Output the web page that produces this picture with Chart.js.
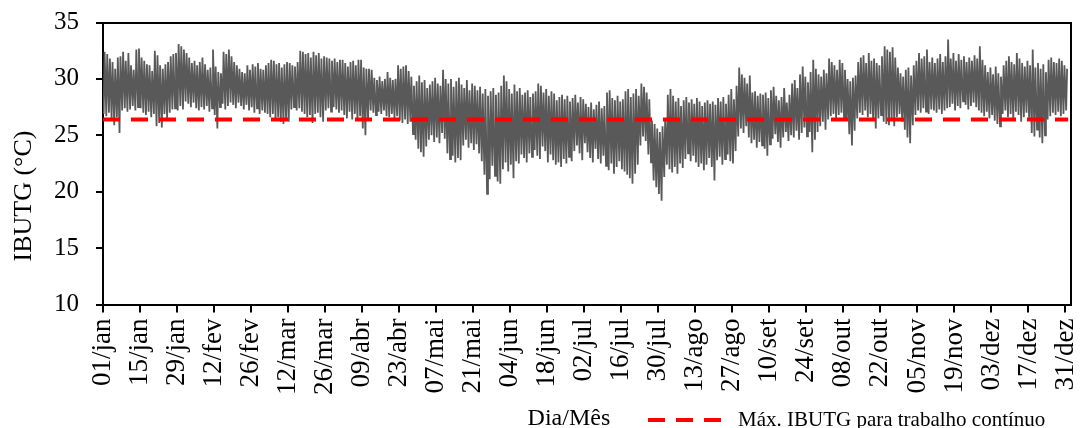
<!DOCTYPE html>
<html>
<head>
<meta charset="utf-8">
<script src="https://cdn.jsdelivr.net/npm/chart.js@4.4.1/dist/chart.umd.min.js"></script>
<style>
  body { margin: 0; background: #fff; }
  #wrap { width: 1081px; height: 428px; }
</style>
</head>
<body>
<div id="wrap"><canvas id="ibutgChart"></canvas></div>
<script>
// ---- dados (IBUTG diário, °C) ----
// máximas diárias, 01/jan (dia 0) até 31/dez (dia 364)
const dailyMax = [
  32.4, 32.2, 31.8, 31.5, 30.9, 31.9, 32.0, 32.4, 31.6, 32.3,
  31.2, 30.8, 32.6, 32.7, 31.9, 31.6, 31.3, 31.2, 30.7, 32.5,
  32.1, 31.2, 30.9, 31.3, 31.5, 32.0, 32.2, 32.3, 33.1, 32.9,
  32.6, 32.3, 31.9, 31.4, 31.6, 31.2, 31.5, 31.9, 31.3, 30.8,
  31.0, 32.6, 31.1, 30.6, 30.5, 32.4, 32.2, 32.6, 32.0, 31.5,
  31.2, 30.9, 30.6, 30.5, 31.2, 30.8, 31.3, 31.1, 31.4, 30.9,
  30.8, 31.2, 31.4, 31.7, 31.6, 31.3, 31.4, 31.0, 31.3, 31.5,
  31.4, 31.2, 31.1, 31.5, 32.5, 32.4, 32.2, 32.3, 31.9, 32.4,
  32.1, 32.3, 31.8, 32.0, 31.9, 31.8, 31.6, 31.8, 31.5, 31.7,
  31.7, 31.4, 31.1, 31.5, 31.6, 31.2, 31.7, 31.7, 31.0, 30.9,
  30.9, 30.8, 30.1, 29.9, 30.2, 29.8, 30.0, 30.6, 30.1, 29.9,
  30.0, 31.2, 30.9, 31.1, 31.2, 30.7, 30.2, 29.4, 29.8, 30.3,
  29.7, 29.9, 29.2, 29.5, 29.8, 30.1, 29.6, 29.4, 30.8, 30.0,
  29.6, 30.0, 29.3, 29.8, 30.1, 29.5, 29.2, 29.9, 29.0, 29.6,
  29.4, 29.0, 29.3, 28.7, 29.1, 28.5, 28.9, 29.2, 28.6, 28.8,
  29.4, 30.3, 29.8, 29.1, 28.7, 29.5, 28.9, 29.2, 28.6, 28.8,
  29.0, 28.4, 28.7, 28.9, 29.6, 29.4, 28.8, 29.1, 28.5, 28.9,
  28.7, 28.1, 28.4, 28.6, 28.2, 28.5, 28.0, 28.3, 28.6, 27.9,
  28.4, 28.2, 27.8, 27.5, 27.9, 27.3, 27.7, 28.0, 27.4, 27.6,
  28.8, 29.0, 28.3, 28.1, 28.5, 28.0, 28.2, 28.9, 29.1, 28.4,
  28.7, 29.1, 28.5, 29.6, 29.3, 28.8, 28.2, 26.3, 26.0, 25.6,
  25.3, 25.8, 26.4, 28.6, 29.1, 28.5, 28.0, 28.3, 27.6, 28.1,
  28.4, 27.9, 28.2, 27.8, 28.3, 28.0, 27.6, 27.9, 28.1, 27.8,
  28.0, 27.7, 28.3, 28.0, 28.4, 27.8, 28.6, 29.1, 28.2, 29.4,
  31.0, 30.4, 30.1, 29.6, 30.3, 28.8, 28.9, 28.5, 28.7, 28.6,
  28.8, 28.3, 29.0, 29.3, 28.5, 28.1, 28.4, 29.2, 27.9, 28.6,
  29.6, 29.9, 29.2, 30.4, 31.1, 30.2, 29.7, 30.6, 31.7, 30.9,
  30.4, 30.2, 30.8, 30.5, 31.8, 31.5, 31.2, 30.8, 31.7, 31.4,
  30.8, 30.0, 29.8, 30.1, 30.3, 31.5, 31.9, 32.1, 31.4, 32.3,
  31.6, 31.8, 31.4, 31.2, 32.0, 32.9, 32.6, 32.4, 32.8, 31.9,
  31.0, 30.5, 30.2, 30.8, 31.0, 30.3, 31.2, 31.6, 32.3, 31.8,
  32.0, 32.6, 31.5, 31.9, 31.4, 31.8, 32.2, 31.5, 32.0, 33.5,
  31.8, 32.3, 31.6, 32.2, 31.7, 32.0, 31.5, 31.9, 31.6, 32.1,
  31.8, 32.9, 31.7, 31.2, 30.6, 31.0, 30.4, 31.1, 30.5, 30.2,
  31.2, 31.6, 32.0, 31.5, 31.3, 32.3, 31.8, 31.4, 31.1, 31.6,
  31.2, 32.6, 31.0, 31.4, 30.9, 31.3, 30.6, 31.7, 31.9, 31.5,
  31.4, 31.8, 31.6, 31.2, 30.9
];

// mínimas diárias, mesmo período
const dailyMin = [
  26.9, 26.7, 27.0, 26.5, 25.9, 26.6, 25.2, 27.2, 27.4, 27.1,
  27.3, 27.6, 27.2, 27.5, 27.4, 27.0, 26.8, 27.1, 26.6, 26.9,
  25.8, 26.1, 25.7, 26.9, 26.5, 27.0, 27.3, 27.4, 27.2, 27.6,
  27.3, 28.0, 27.8, 27.5, 27.9, 27.4, 27.2, 27.5, 27.3, 27.6,
  27.1, 27.4, 26.8, 25.6, 27.5, 27.8, 27.3, 27.6, 27.9, 27.7,
  27.4, 27.9, 27.6, 27.3, 27.7, 27.2, 27.5, 27.0, 27.4, 26.9,
  27.2, 27.0, 26.9, 26.6, 26.9, 26.4, 26.6, 26.2, 26.0, 26.3,
  26.2, 27.3, 27.5, 27.2, 27.4, 27.1, 26.9, 26.6, 26.8, 26.1,
  26.9, 27.0, 26.6, 26.2, 27.2, 27.4, 27.1, 27.5, 27.3, 27.0,
  27.2, 26.8, 26.5, 27.1, 26.4, 26.9, 26.3, 26.7, 25.6, 25.0,
  26.4, 27.2, 27.0, 26.8, 27.1, 26.9, 27.2, 26.7, 26.6, 26.9,
  26.5, 26.7, 26.3, 26.1, 26.4, 26.0, 26.2, 25.1, 24.6, 23.8,
  23.5, 23.1, 24.0, 24.6, 25.0, 24.4, 24.8, 24.3, 25.2, 24.7,
  23.4, 22.9, 23.2, 22.6, 23.0, 22.8, 24.1, 24.6, 23.9, 24.3,
  23.7, 24.2, 23.4, 22.7, 21.5, 19.8, 21.1, 22.3, 21.4, 20.9,
  20.7, 22.0, 22.6, 21.8, 22.4, 21.2, 22.7, 22.5, 23.3, 23.0,
  22.6, 23.4, 23.1, 23.7, 23.2, 22.9, 24.0, 23.6, 22.6, 23.3,
  22.8, 22.4, 22.6, 22.2, 22.9, 22.5, 23.1, 22.7, 23.6, 24.1,
  23.4, 22.8, 24.3, 23.5, 23.0, 22.6, 23.8, 22.9, 22.5, 23.2,
  22.3, 21.9, 22.5, 21.6, 22.2, 22.7, 22.0, 21.8, 21.5, 21.2,
  20.7, 21.6, 22.4, 24.1, 24.9, 24.5, 23.3, 22.6, 21.0, 20.4,
  19.8, 19.2, 21.3, 22.4, 22.0, 21.7, 22.2, 21.6, 22.5, 22.1,
  22.9, 23.4, 22.7, 23.2, 22.6, 22.2, 22.5, 21.9, 22.4, 23.0,
  22.2, 21.0, 22.8, 23.1, 22.4, 22.9, 23.3, 22.7, 22.5, 23.6,
  24.9, 25.6, 25.2, 25.8, 24.8, 24.3, 24.6, 23.9, 24.4, 24.1,
  23.8, 23.2, 24.2, 24.7, 25.1, 24.4, 23.9, 24.8, 25.3, 24.5,
  25.0, 24.8, 25.4, 24.6, 25.2, 25.7, 24.9, 25.3, 23.5, 24.6,
  25.3, 25.8, 26.2, 25.5, 26.4, 26.7, 26.9, 26.5, 26.8, 27.0,
  26.6, 26.3, 25.1, 24.1, 25.4, 26.5, 27.0, 26.8, 27.2, 26.6,
  26.9, 26.4, 25.6, 26.5, 26.8, 26.2, 26.0, 25.9, 26.3, 25.8,
  26.6, 26.9, 26.2, 25.5, 24.8, 24.3, 25.9, 26.8, 27.2, 27.0,
  27.4, 27.1, 26.9, 27.3, 27.2, 27.0, 27.3, 26.9, 27.2, 27.4,
  27.5, 27.8, 27.2, 27.6, 27.4, 28.0, 27.7, 27.3, 27.6, 27.9,
  27.5, 27.2, 27.0, 26.7, 27.1, 26.5, 26.8, 26.3, 26.0, 25.8,
  26.9, 27.2, 26.6, 26.9, 26.4, 27.1, 26.8, 26.2, 26.6, 27.0,
  26.5, 25.2, 24.9, 25.5, 24.8, 24.3, 25.0, 26.4, 26.7, 27.0,
  26.8, 27.1, 26.7, 26.9, 27.2
];

// limite de IBUTG para trabalho contínuo
const limitValue = 26.4;
const limitDays = [0, 365];

// marcas do eixo x (dia do ano) e seus rótulos
const tickDays = [0, 14, 28, 42, 56, 70, 84, 98, 112, 126, 140, 154, 168, 182,
  196, 210, 224, 238, 252, 266, 280, 294, 308, 322, 336, 350, 364];
const tickLabels = ['01/jan', '15/jan', '29/jan', '12/fev', '26/fev', '12/mar', '26/mar',
  '09/abr', '23/abr', '07/mai', '21/mai', '04/jun', '18/jun', '02/jul', '16/jul',
  '30/jul', '13/ago', '27/ago', '10/set', '24/set', '08/out', '22/out', '05/nov',
  '19/nov', '03/dez', '17/dez', '31/dez'];

const serif = "'Liberation Serif', 'Times New Roman', serif";
Chart.defaults.font.family = serif;
Chart.defaults.color = '#000';

// mínima de madrugada e máxima à tarde em cada dia
const ibutgPoints = [];
dailyMax.forEach((maxVal, day) => {
  ibutgPoints.push({ x: day + 0.25, y: dailyMin[day] });
  ibutgPoints.push({ x: day + 0.6, y: maxVal });
});
const limitPoints = limitDays.map(d => ({ x: d, y: limitValue }));

// moldura em cima e à direita da área do gráfico
const framePlugin = {
  id: 'frame',
  afterDraw(chart) {
    const { ctx, chartArea: a } = chart;
    ctx.save();
    ctx.strokeStyle = '#000';
    ctx.lineWidth = 2;
    ctx.beginPath();
    ctx.moveTo(a.left, Math.round(a.top));
    ctx.lineTo(Math.round(a.right), Math.round(a.top));
    ctx.lineTo(Math.round(a.right), a.bottom);
    ctx.stroke();
    ctx.restore();
  }
};

// legenda na linha do título do eixo x
const legendPlugin = {
  id: 'bottomLegend',
  afterDraw(chart) {
    const ds = chart.data.datasets[0];
    const ctx = chart.ctx;
    ctx.save();
    ctx.strokeStyle = ds.borderColor;
    ctx.lineWidth = ds.borderWidth;
    ctx.setLineDash(ds.borderDash);
    ctx.beginPath();
    ctx.moveTo(648, 420);
    ctx.lineTo(721, 420);
    ctx.stroke();
    ctx.setLineDash([]);
    ctx.fillStyle = '#000';
    ctx.font = '21px ' + serif;
    ctx.textBaseline = 'alphabetic';
    ctx.fillText(ds.label, 738, 426);
    ctx.restore();
  }
};

new Chart(document.getElementById('ibutgChart'), {
  type: 'line',
  data: {
    datasets: [
      {
        label: 'Máx. IBUTG para trabalho contínuo',
        data: limitPoints,
        borderColor: '#ff0000',
        borderWidth: 4,
        borderDash: [17, 11],
        pointRadius: 0,
        order: 0
      },
      {
        label: 'IBUTG',
        data: ibutgPoints,
        borderColor: '#595959',
        borderWidth: 1.8,
        pointRadius: 0,
        tension: 0,
        order: 1
      }
    ]
  },
  options: {
    responsive: true,
    maintainAspectRatio: false,
    animation: false,
    layout: { padding: { top: 22.5, right: 10, bottom: 0, left: 0 } },
    plugins: {
      legend: { display: false },
      tooltip: { enabled: false }
    },
    scales: {
      x: {
        type: 'linear',
        min: 0,
        max: 366,
        afterBuildTicks: (scale) => { scale.ticks = tickDays.map(v => ({ value: v })); },
        ticks: {
          autoSkip: false,
          minRotation: 90,
          maxRotation: 90,
          padding: 6,
          font: { size: 27, lineHeight: 0.35 },
          callback: (value) => tickLabels[tickDays.indexOf(value)]
        },
        grid: { drawOnChartArea: false, tickLength: 8, color: '#000', lineWidth: 2 },
        border: { color: '#000', width: 2 },
        title: {
          display: true,
          text: 'Dia/Mês      ',
          font: { size: 24, lineHeight: 0.75 },
          padding: { top: 9, bottom: 0 }
        }
      },
      y: {
        min: 10,
        max: 35,
        ticks: { stepSize: 5, padding: 17, font: { size: 25, lineHeight: 0.4 } },
        grid: { drawOnChartArea: false, tickLength: 7, color: '#000', lineWidth: 2 },
        border: { color: '#000', width: 2 },
        title: {
          display: true,
          text: 'IBUTG (°C)          ',
          font: { size: 26, lineHeight: 1 },
          padding: { top: 11, bottom: 0 }
        }
      }
    }
  },
  plugins: [framePlugin, legendPlugin]
});
</script>
</body>
</html>
